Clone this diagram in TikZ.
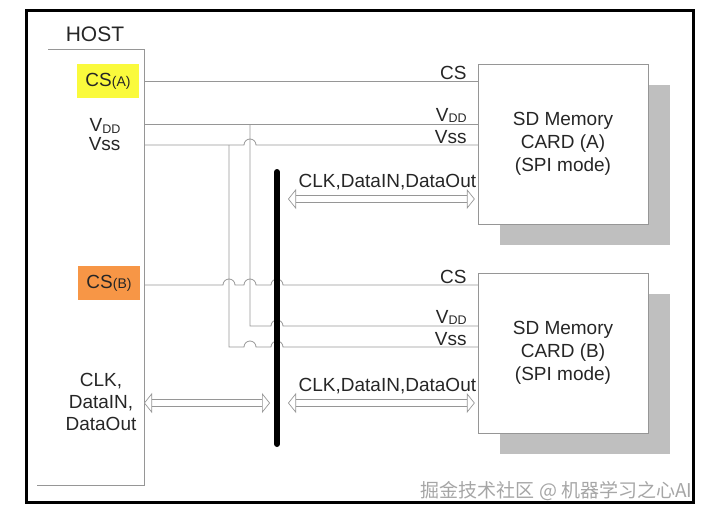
\documentclass[tikz,border=0pt]{standalone}
\usepackage{fontspec}
\setmainfont{Liberation Sans}
\newfontfamily\cjk{Noto Sans CJK SC}
\usetikzlibrary{arrows.meta,positioning}
\pgfdeclarelayer{background}
\pgfsetlayers{background,main}
\definecolor{wiregray}{RGB}{150,150,150}
\definecolor{csyellow}{RGB}{250,250,60}
\definecolor{csorange}{RGB}{247,150,70}
\newcommand{\lowidx}[1]{\raisebox{-1.5pt}{\fontsize{12.5}{12}\selectfont #1}}
\tikzstyle{card}=[draw=wiregray, fill=white
,minimum width=170pt, minimum height=160pt
,inner sep=0pt, align=center
]
\tikzstyle{cardshade}=[fill=gray!50, minimum width=170pt, minimum height=160pt, inner sep=0pt]
\tikzstyle{wire} = [draw=wiregray, line width=0.8pt]
\tikzstyle{pin} = [anchor=south east, inner sep=1pt, xshift=-10pt]
\tikzstyle{csbox} = [minimum width=62pt, minimum height=34pt, inner sep=0pt]
\tikzstyle{bus} = [draw, line width=6pt, line cap=round]
\tikzstyle{dataflow} = [draw=wiregray, double=white, double distance=6pt, line width=0.7pt, <->]

\begin{document}
\begin{tikzpicture}[x=1pt,y=-1pt,font=\fontsize{19}{23}\selectfont,text=black!85
  ,>={Triangle[open,fill=white,length=8pt,width=20pt,line width=0.7pt]}]
    % Page and frame
    \useasboundingbox (0,0) rectangle (710,517);
    \draw[line width=3pt] (26,10) rectangle (693,502);

    % Host side
    \node (host) at (95,34) {\fontsize{21}{24}\selectfont HOST};
    \draw[wire] (48,49) -- (144,49) -- (144,485) -- (37,485);
    \node[csbox, fill=csyellow] (csAbox) at (108,81) {CS{\fontsize{14}{14}\selectfont(A)}};
    \node[csbox, fill=csorange] (csBbox) at (109,283) {CS{\fontsize{14}{14}\selectfont(B)}};
    \node[anchor=east, align=right, font=\fontsize{19}{19}\selectfont] (hostpwr) at (124,135) {V\lowidx{DD}\\Vss};
    \node[align=center, font=\fontsize{19}{22}\selectfont] (hostdata) at (101,402) {CLK,\\DataIN,\\DataOut};

    % Pins on the host edge, risers and bus
    \foreach \name/\y in {csA/81, vddA/124, vssA/145, csB/285, dat/403}
        \coordinate (\name) at (144,\y);
    \coordinate (vddB) at (250,326);
    \coordinate (vssB) at (229,347);
    \coordinate (bustop) at (277,172);
    \coordinate (busbot) at (277,444);
    \coordinate (datA) at (277,199);
    \coordinate (datB) at (277,403);

    % Cards with their shadows
    \node[card] (cardA) at (563,144) {SD Memory\\CARD (A)\\(SPI mode)};
    \node[card] (cardB) at (563,353) {SD Memory\\CARD (B)\\(SPI mode)};
    \begin{pgfonlayer}{background}
        \foreach \c in {cardA, cardB}
            \node[cardshade] (\c shade) at ([shift={(22,21)}]\c.center) {};
    \end{pgfonlayer}

    % Wires to card A
    \draw[wire] (csA) -- (csA -| cardA.west);
    \draw[wire] (vddA) -- (vddA -| cardA.west);
    \draw[wire] (vssA) -- (244,145) arc[start angle=180, end angle=360, radius=6] -- (vssA -| cardA.west);

    % Wires to card B, hopping over the crossings
    \draw[wire] (csB) \foreach \x in {229,250,277} { -- (\x-6,285) arc[start angle=180, end angle=360, radius=6] } -- (csB -| cardB.west);
    \draw[wire] (vddA -| vddB) -- (vddB) -- (271,326) arc[start angle=180, end angle=360, radius=6] -- (vddB -| cardB.west);
    \draw[wire] (vssA -| vssB) -- (vssB) \foreach \x in {250,277} { -- (\x-6,347) arc[start angle=180, end angle=360, radius=6] } -- (vssB -| cardB.west);

    % Bus and data lines
    \draw[bus] (bustop) -- (busbot);
    \draw[dataflow] (dat) -- ([xshift=-7pt]datB);
    \draw[dataflow] ([xshift=11pt]datA) -- ([xshift=-3pt]datA -| cardA.west)
        node[midway, above=5pt, xshift=6pt] (datAlabel) {CLK,DataIN,DataOut};
    \draw[dataflow] ([xshift=11pt]datB) -- ([xshift=-3pt]datB -| cardB.west)
        node[midway, above=5pt, xshift=6pt] (datBlabel) {CLK,DataIN,DataOut};

    % Pin names at the cards
    \foreach \c/\s in {A/cs, B/cs}
        \node[pin] (\c\s label) at (\s\c -| card\c.west) {CS};
    \node[pin] (vddAlabel) at (vddA -| cardA.west) {V\lowidx{DD}};
    \node[pin] (vssAlabel) at (vssA -| cardA.west) {Vss};
    \node[pin] (vddBlabel) at (vddB -| cardB.west) {V\lowidx{DD}};
    \node[pin] (vssBlabel) at (vssB -| cardB.west) {Vss};

    % Watermark
    \node[anchor=east, text=gray!70, font=\cjk\fontsize{19}{20}\selectfont] (mark) at (696,491) {掘金技术社区 @ 机器学习之心AI};
\end{tikzpicture}
\end{document}
